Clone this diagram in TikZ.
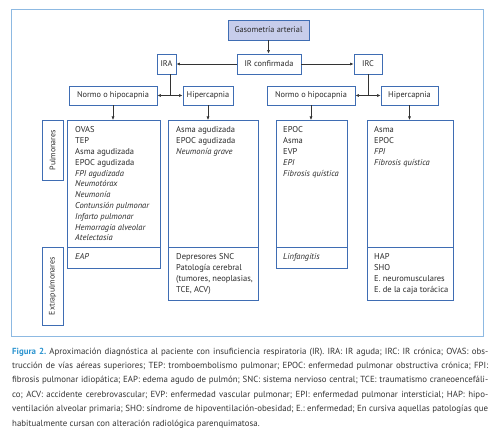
\documentclass[tikz,border=0pt]{standalone}
\usepackage{fontspec}
\setmainfont{PT Sans}
\usetikzlibrary{shadows,arrows.meta,calc}
\definecolor{boxblue}{HTML}{3F6DB3}
\definecolor{framec}{HTML}{8DB9E2}
\definecolor{gasfill}{HTML}{C7CDEB}
\definecolor{txt}{HTML}{2A2A2A}
\definecolor{capblue}{HTML}{2A93CF}
\definecolor{captxt}{HTML}{333333}
\frenchspacing
\begin{document}
\begin{tikzpicture}[x=1pt,y=-1pt,
 base/.style={draw=boxblue, line width=0.8pt, fill=white, inner sep=0pt,
   drop shadow={shadow xshift=1pt,shadow yshift=-1pt,fill=black!30,opacity=1}},
 hdr/.style={base, font=\fontsize{8.3}{10}\selectfont, text=txt, minimum height=20},
 col/.style={base, anchor=north west},
 lbl/.style={base, rotate=90, minimum height=21, font=\fontsize{8}{10}\selectfont, text=txt},
 lst/.style={anchor=north west, align=left, inner sep=0pt, font=\fontsize{8.5}{10.8}\selectfont, text=txt},
 conn/.style={draw=black!80, line width=0.6pt},
 mytip/.tip={Latex[length=3.5pt,width=3pt]},
 arr/.style={conn, -mytip},
 captext/.style={anchor=base west, inner sep=0pt, font=\fontsize{8.85}{10}\selectfont\frenchspacing, text=captxt},
 ]
\useasboundingbox (0,0) rectangle (503,438);
\node[draw=framec, line width=1.1pt, minimum width=472, minimum height=327, anchor=north west, inner sep=0pt] (frame) at (11,9) {};
% headers
\node[hdr, fill=gasfill, minimum width=81] (gas) at (268.5,30) {Gasometría arterial};
\node[hdr, minimum width=64] (irc0) at (269,64) {IR confirmada};
\node[hdr, minimum width=19] (ira) at (166.5,64) {IRA};
\node[hdr, minimum width=28] (irc) at (368,64) {IRC};
\node[hdr, minimum width=88, minimum height=19] (n1) at (113,95.5) {Normo o hipocapnia};
\node[hdr, minimum width=50, minimum height=19] (h1) at (208,95.5) {Hipercapnia};
\node[hdr, minimum width=88, minimum height=19] (n2) at (311,95.5) {Normo o hipocapnia};
\node[hdr, minimum width=57, minimum height=19] (h2) at (409.5,95.5) {Hipercapnia};
% connectors
\draw[arr] (gas.south) -- (gas.south |- irc0.north);
\draw[arr] (irc0.west) -- (ira.east);
\draw[arr] (irc0.east) -- (irc.west);
\draw[conn, mytip-mytip] (n1.east) -- (h1.west);
\draw[conn, mytip-mytip] (n2.east) -- (h2.west);
\coordinate (m1) at ($(n1.east)!0.5!(h1.west)$);
\coordinate (m2) at ($(n2.east)!0.5!(h2.west)$);
\draw[conn] (ira.south -| m1) -- (m1);
\draw[conn] (irc.south -| m2) -- (m2);
% columns
\node[col, minimum width=93, minimum height=127] (c1a) at (67,120) {};
\node[col, minimum width=93, minimum height=21] (c1b) at (67,247) {};
\node[col, minimum width=90, minimum height=127] (c2a) at (168,120) {};
\node[col, minimum width=90, minimum height=53] (c2b) at (168,247) {};
\node[col, minimum width=71, minimum height=127] (c3a) at (276,120) {};
\node[col, minimum width=71, minimum height=21] (c3b) at (276,247) {};
\node[col, minimum width=86, minimum height=127] (c4a) at (367,120) {};
\node[col, minimum width=86, minimum height=53] (c4b) at (367,247) {};
\draw[arr] (n1.south) -- (n1.south |- c1a.north);
\draw[arr] (h1.south) -- (h1.south |- c2a.north);
\draw[arr] (n2.south) -- (n2.south |- c3a.north);
\draw[arr] (h2.south) -- (h2.south |- c4a.north);
% side labels
\node[lbl, minimum width=60] (lp) at (52.5,150) {Pulmonares};
\node[lbl, minimum width=78] (le) at (52.5,286) {Extrapulmonares};
% lists
\node[lst] (t1a) at (75,125.8) {\rule{0pt}{7pt}OVAS\\TEP\\Asma agudizada\\EPOC agudizada\\\textit{FPI agudizada}\\\textit{Neumotórax}\\\textit{Neumonía}\\\textit{Contunsión pulmonar}\\\textit{Infarto pulmonar}\\\textit{Hemorragia alveolar}\\\textit{Atelectasia}};
\node[lst] (t1b) at (75,252.8) {\rule{0pt}{7pt}\textit{EAP}};
\node[lst] (t2a) at (176,125.8) {\rule{0pt}{7pt}Asma agudizada\\EPOC agudizada\\\textit{Neumonía grave}};
\node[lst] (t2b) at (176,252.8) {\rule{0pt}{7pt}Depresores SNC\\Patología cerebral\\(tumores, neoplasias,\\TCE, ACV)};
\node[lst] (t3a) at (283,125.8) {\rule{0pt}{7pt}EPOC\\Asma\\EVP\\\textit{EPI}\\\textit{Fibrosis quística}};
\node[lst] (t3b) at (283,252.8) {\rule{0pt}{7pt}\textit{Linfangitis}};
\node[lst] (t4a) at (374,125.8) {\rule{0pt}{7pt}Asma\\EPOC\\\textit{FPI}\\\textit{Fibrosis quística}};
\node[lst] (t4b) at (374,252.8) {\rule{0pt}{7pt}HAP\\SHO\\E. neuromusculares\\E. de la caja torácica};
% caption
\node[captext] (l1) at (12,354) {\makebox[476pt][s]{\textcolor{capblue}{\textbf{Figura 2.}} Aproximación diagnóstica al paciente con insuficiencia respiratoria (IR). IRA: IR aguda; IRC: IR crónica; OVAS: obs-}};
\node[captext] (l2) at (12,368.4) {\makebox[476pt][s]{trucción de vías aéreas superiores; TEP: tromboembolismo pulmonar; EPOC: enfermedad pulmonar obstructiva crónica; FPI:}};
\node[captext] (l3) at (12,382.8) {\makebox[476pt][s]{fibrosis pulmonar idiopática; EAP: edema agudo de pulmón; SNC: sistema nervioso central; TCE: traumatismo craneoencefáli-}};
\node[captext] (l4) at (12,397.2) {\makebox[476pt][s]{co; ACV: accidente cerebrovascular; EVP: enfermedad vascular pulmonar; EPI: enfermedad pulmonar intersticial; HAP: hipo-}};
\node[captext] (l5) at (12,411.6) {\makebox[476pt][s]{ventilación alveolar primaria; SHO: síndrome de hipoventilación-obesidad; E.: enfermedad; En cursiva aquellas patologías que}};
\node[captext] (l6) at (12,426) {habitualmente cursan con alteración radiológica parenquimatosa.};
\end{tikzpicture}
\end{document}
